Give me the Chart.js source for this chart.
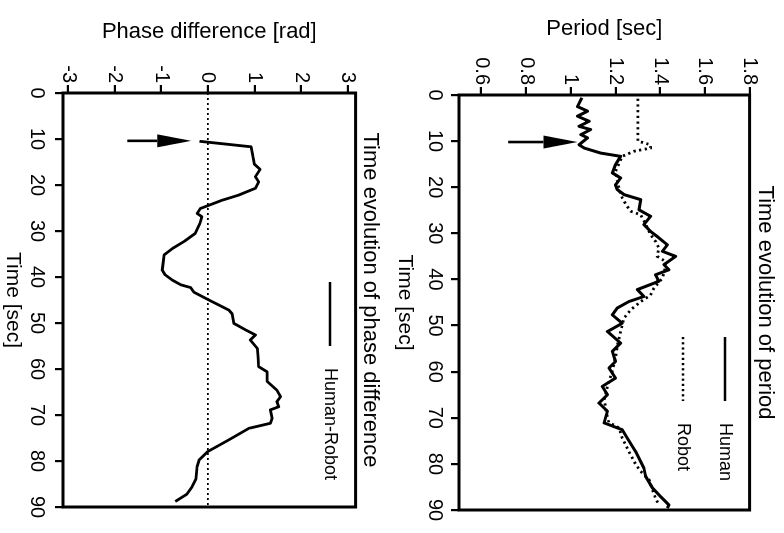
<!DOCTYPE html>
<html>
<head>
<meta charset="utf-8">
<script src="https://cdn.jsdelivr.net/npm/chart.js@4/dist/chart.umd.min.js"></script>
<style>
  html, body { margin: 0; padding: 0; background: #fff; overflow: hidden; width: 784px; height: 533px; }
  /* the figure is drawn upright, then turned a quarter turn clockwise */
  #page { position: absolute; left: 0; top: 0; width: 533px; height: 784px;
          transform-origin: 0 0; transform: translateX(784px) rotate(90deg); }
  canvas { display: block; }
</style>
</head>
<body>
<div id="page">
  <canvas id="periodChart" width="533" height="392"></canvas>
  <canvas id="phaseChart" width="533" height="392"></canvas>
</div>
<script>
// tick labels
const timeTicks = [0, 10, 20, 30, 40, 50, 60, 70, 80, 90];
const periodTicks = [0.6, 0.8, 1, 1.2, 1.4, 1.6, 1.8];
const phaseTicks = [-3, -2, -1, 0, 1, 2, 3];

// period of the human (solid)
const humanTime = [0.6, 2.5, 3.5, 4.6, 5.7, 6.8, 7.5, 8.6, 9.3, 10.8, 11.5, 12.6, 13.3, 15.1, 16.9, 18.0, 19.5, 20.5, 21.6, 22.7,
  24.9, 26.3, 28.1, 29.6, 30.7, 32.5, 33.9, 35.0, 36.8, 37.9, 39.0, 40.4, 42.2, 43.7, 44.8, 46.2, 47.7, 49.5, 51.3, 53.8,
  55.6, 57.8, 59.2, 61.4, 63.2, 65.0, 66.8, 68.6, 71.1, 72.6, 74.4, 77.3, 80.9, 82.7, 85.2, 87.1, 88.9, 89.6];
const humanPeriod = [1.05, 1.03, 1.075, 1.03, 1.082, 1.037, 1.089, 1.045, 1.075, 1.037, 1.06, 1.134, 1.223, 1.2, 1.186, 1.223, 1.2, 1.208, 1.238, 1.313,
  1.305, 1.357, 1.327, 1.357, 1.387, 1.432, 1.41, 1.469, 1.417, 1.439, 1.379, 1.394, 1.298, 1.327, 1.26, 1.208, 1.186, 1.23, 1.164, 1.223,
  1.186, 1.2, 1.171, 1.2, 1.141, 1.164, 1.126, 1.164, 1.149, 1.23, 1.253, 1.29, 1.327, 1.335, 1.365, 1.402, 1.439, 1.432];

// period of the robot (dotted)
const robotTime = [0.8, 5, 10.0, 10.8, 11.5, 12.2, 13.3, 15, 16.6, 19, 21, 22.3, 24, 25.2, 26.0, 28, 30.3, 31.8, 33.2, 35.0,
  36.1, 38, 39.7, 41.9, 43.4, 44.8, 46.6, 48.4, 51.3, 54, 57, 60, 63, 66, 69, 71, 72.2, 74.4, 77.3, 79.5,
  81.5, 83.4, 85.5, 87.4, 88.8];
const robotPeriod = [1.30, 1.30, 1.30, 1.357, 1.357, 1.283, 1.23, 1.215, 1.2, 1.21, 1.22, 1.23, 1.25, 1.268, 1.313, 1.335, 1.357, 1.38, 1.394, 1.387,
  1.424, 1.42, 1.41, 1.372, 1.357, 1.313, 1.268, 1.238, 1.223, 1.21, 1.2, 1.185, 1.165, 1.15, 1.16, 1.17, 1.216, 1.23, 1.26, 1.283,
  1.31, 1.35, 1.365, 1.379, 1.394];

// phase difference human - robot
const phaseTime = [10.5, 11.7, 14, 15.5, 16.6, 18.2, 19.3, 20.7, 22.2, 23.3, 25.1, 26.2, 26.9, 28.3, 30.5, 32.2, 33.8, 35.2, 38.5, 39.5,
  40.7, 41.7, 42.3, 43.3, 45, 47.2, 48, 50.1, 51.5, 52.6, 53.7, 55.5, 57.5, 59.5, 60.6, 62.7, 64.6, 66, 67.1, 68.2,
  68.9, 70.7, 71.8, 72.9, 75.4, 78, 79.8, 81.2, 84, 85.6, 87.2, 88.8];
const phaseDiff = [-0.18, 0.93, 0.97, 1.0, 1.12, 1.02, 1.09, 1.02, 0.66, 0.31, -0.16, -0.23, -0.13, -0.17, -0.27, -0.5, -0.76, -0.94, -0.98, -0.92,
  -0.76, -0.58, -0.37, -0.3, 0.02, 0.45, 0.52, 0.56, 0.81, 1.02, 0.91, 1.06, 1.08, 1.09, 1.27, 1.27, 1.48, 1.56, 1.48, 1.52,
  1.34, 1.38, 1.34, 0.88, 0.45, -0.01, -0.19, -0.23, -0.26, -0.34, -0.45, -0.7];
const zeroTime = [0, 90];
const zeroPhase = [0, 0];

// arrows: [time, from value, to value]
const periodArrow = [10.2, 0.72, 1.03];
const phaseArrow = [10.4, -1.73, -0.36];

Chart.defaults.font.family = '"Liberation Sans", Arial, Helvetica, sans-serif';
Chart.defaults.color = '#000';

const pts = (xs, ys) => xs.map((x, i) => ({ x: x, y: ys[i] }));

// legend sample: a line followed by a gap, so the text sits where it should
function legendSample(dash, width) {
    const c = document.createElement('canvas');
    c.width = 77;
    c.height = 8;
    const g = c.getContext('2d');
    g.strokeStyle = '#000';
    g.lineWidth = width;
    g.setLineDash(dash);
    g.beginPath();
    g.moveTo(0, 4);
    g.lineTo(64, 4);
    g.stroke();
    return c;
}
const samples = {
    'Human': legendSample([], 2.6),
    'Robot': legendSample([2.2, 3], 2.6),
    'Human-Robot': legendSample([], 2.6)
};

// box round the plot
const framePlugin = {
    id: 'frame',
    afterDatasetsDraw(chart) {
        const { ctx, chartArea: a } = chart;
        ctx.save();
        ctx.strokeStyle = '#000';
        ctx.lineWidth = 3;
        ctx.strokeRect(a.left, a.top, a.right - a.left, a.bottom - a.top);
        ctx.restore();
    }
};

const arrowPlugin = {
    id: 'arrowMark',
    afterDatasetsDraw(chart, args, opts) {
        if (!opts.at) return;
        const { ctx, scales } = chart;
        const px = scales.x.getPixelForValue(opts.at[0]);
        const p0 = scales.y.getPixelForValue(opts.at[1]);
        const p1 = scales.y.getPixelForValue(opts.at[2]);
        const dir = p1 < p0 ? -1 : 1;
        const head = 34, half = 6.5;
        ctx.save();
        ctx.strokeStyle = '#000';
        ctx.fillStyle = '#000';
        ctx.lineWidth = 2.6;
        ctx.beginPath();
        ctx.moveTo(px, p0);
        ctx.lineTo(px, p1 - dir * head);
        ctx.stroke();
        ctx.beginPath();
        ctx.moveTo(px, p1);
        ctx.lineTo(px - half, p1 - dir * head);
        ctx.lineTo(px + half, p1 - dir * head);
        ctx.closePath();
        ctx.fill();
        ctx.restore();
    }
};

// put the legend inside the plot at a given spot
const legendPlace = {
    id: 'legendPlace',
    afterLayout(chart, args, opts) {
        const lg = chart.legend;
        if (!lg || opts.x == null) return;
        lg.left = opts.x - opts.pad;
        lg.top = opts.y - opts.fs / 2 - opts.pad;
        lg.width = 260;
        lg.height = 140;
        lg.right = lg.left + lg.width;
        lg.bottom = lg.top + lg.height;
    }
};

function timeAxis(axisHeight, tickPad) {
    return {
        type: 'linear',
        min: 0,
        max: 90,
        afterBuildTicks: s => { s.ticks = timeTicks.map(v => ({ value: v })); },
        afterFit: s => { s.height = axisHeight; },
        ticks: { font: { size: 20 }, padding: tickPad, maxRotation: 0, autoSkip: false },
        grid: { drawOnChartArea: false, drawTicks: true, tickLength: 8, color: '#000', lineWidth: 2.2 },
        border: { display: false },
        title: { display: true, text: 'Time [sec]', font: { size: 21 }, padding: { top: 0, bottom: 0 } }
    };
}

function valueAxis(min, max, ticks, label, axisWidth, titlePad) {
    return {
        type: 'linear',
        min: min,
        max: max,
        afterBuildTicks: s => { s.ticks = ticks.map(v => ({ value: v })); },
        afterFit: s => { s.width = axisWidth; },
        ticks: { font: { size: 20 }, padding: 2, callback: v => String(v) },
        grid: { drawOnChartArea: false, drawTicks: true, tickLength: 8, color: '#000', lineWidth: 2.2 },
        border: { display: false },
        title: { display: true, text: label, font: { size: 22 }, padding: { top: titlePad, bottom: 0 } }
    };
}

function legendOptions() {
    return {
        display: true,
        position: 'chartArea',
        align: 'start',
        labels: {
            color: '#000',
            font: { size: 18 },
            padding: 24,
            usePointStyle: true,
            pointStyleWidth: 77,
            filter: it => it.text !== 'zero',
            generateLabels(chart) {
                const items = Chart.defaults.plugins.legend.labels.generateLabels(chart);
                items.forEach(it => { it.pointStyle = samples[it.text]; });
                return items;
            }
        }
    };
}

new Chart(document.getElementById('periodChart'), {
    type: 'line',
    data: {
        datasets: [{
            label: 'Human',
            data: pts(humanTime, humanPeriod),
            borderColor: '#000',
            borderWidth: 3,
            borderJoinStyle: 'round',
            pointRadius: 0,
            tension: 0
        }, {
            label: 'Robot',
            data: pts(robotTime, robotPeriod),
            borderColor: '#000',
            borderWidth: 2.8,
            borderDash: [2.2, 3.5],
            pointRadius: 0,
            tension: 0
        }]
    },
    options: {
        responsive: false,
        animation: false,
        devicePixelRatio: 1,
        layout: { padding: { left: 0, right: 23, top: 0, bottom: 0 } },
        scales: {
            x: timeAxis(67, 4),
            y: valueAxis(0.5, 1.8, periodTicks, 'Period [sec]', 95, 16)
        },
        plugins: {
            title: {
                display: true,
                text: 'Time evolution of period',
                font: { size: 22, weight: 'normal' },
                color: '#000',
                fullSize: false,
                padding: { top: 6, bottom: 2 }
            },
            legend: legendOptions(),
            legendPlace: { x: 337, y: 59, pad: 24, fs: 18 },
            arrowMark: { at: periodArrow },
            tooltip: { enabled: false }
        }
    },
    plugins: [framePlugin, arrowPlugin, legendPlace]
});

new Chart(document.getElementById('phaseChart'), {
    type: 'line',
    data: {
        datasets: [{
            label: 'Human-Robot',
            data: pts(phaseTime, phaseDiff),
            borderColor: '#000',
            borderWidth: 2.8,
            borderJoinStyle: 'round',
            pointRadius: 0,
            tension: 0
        }, {
            label: 'zero',
            data: pts(zeroTime, zeroPhase),
            borderColor: '#000',
            borderWidth: 1.6,
            borderDash: [2, 3],
            pointRadius: 0
        }]
    },
    options: {
        responsive: false,
        animation: false,
        devicePixelRatio: 1,
        layout: { padding: { left: 0, right: 26, top: 0, bottom: 0 } },
        scales: {
            x: timeAxis(63, 6),
            y: valueAxis(-3.11, 3.17, phaseTicks, 'Phase difference [rad]', 93, 19)
        },
        plugins: {
            title: {
                display: true,
                text: 'Time evolution of phase difference',
                font: { size: 22, weight: 'normal' },
                color: '#000',
                fullSize: false,
                padding: { top: 9, bottom: 1 }
            },
            legend: legendOptions(),
            legendPlace: { x: 282, y: 62, pad: 24, fs: 18 },
            arrowMark: { at: phaseArrow },
            tooltip: { enabled: false }
        }
    },
    plugins: [framePlugin, arrowPlugin, legendPlace]
});
</script>
</body>
</html>
